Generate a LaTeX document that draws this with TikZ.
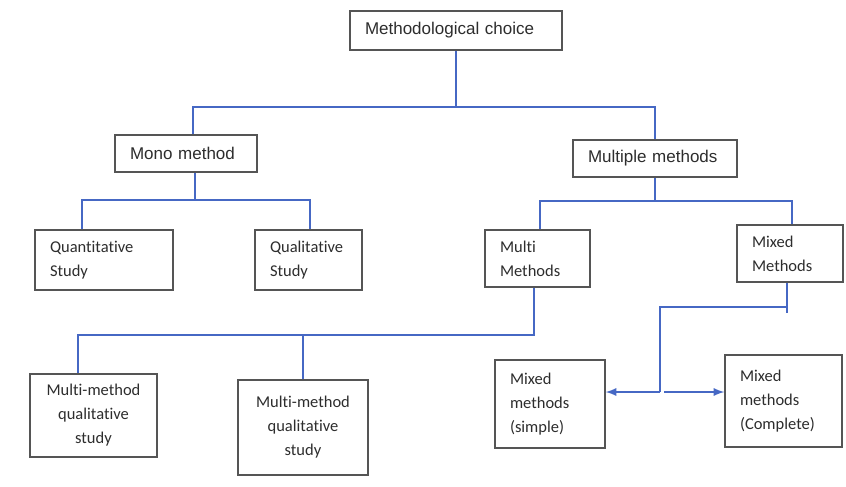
\documentclass[tikz,border=0pt]{standalone}
\usepackage{fontspec}
\setmainfont{Carlito}[Ligatures=NoCommon]
\newfontfamily\arialfont{Liberation Sans}
\usepackage{tikz}
\usetikzlibrary{shapes}
\usetikzlibrary{arrows}
\definecolor{linkblue}{RGB}{70,104,196}
\definecolor{boxgray}{RGB}{85,85,85}
\definecolor{textgray}{RGB}{45,45,45}
\begin{document}
\begin{tikzpicture}[x=1pt,y=-1pt]
				\tikzstyle{box}=[rectangle,draw=boxgray,line width=1.4pt,fill=white,text=textgray,inner xsep=15pt,inner ysep=2pt,align=left,font=\fontsize{16.5}{24}\selectfont]
				\tikzstyle{headbox}=[box,font=\arialfont\fontsize{17}{20}\selectfont]
				\tikzstyle{link}=[draw=linkblue,line width=2.6pt]
				\useasboundingbox (0,0) rectangle (846,487);
				% top level
				\node[headbox,text width=182pt,minimum height=39pt] (choice) at (456,30.5) {Methodological choice};
				\node[headbox,text width=112pt,minimum height=37pt] (mono) at (186,153.5) {Mono method};
				\node[headbox,text width=134pt,minimum height=37pt] (multiple) at (655,158.5) {Multiple methods};
				% second level
				\node[box,text width=108pt,minimum height=60pt] (quant) at (104,260) {Quantitative\\Study};
				\node[box,text width=77pt,minimum height=60pt] (qual) at (308.5,260) {Qualitative\\Study};
				\node[box,text width=75pt,minimum height=57pt] (multi) at (537.5,258.5) {Multi\\Methods};
				\node[box,text width=76pt,minimum height=57pt] (mixed) at (790,253.5) {Mixed\\Methods};
				% third level
				\node[box,align=center,text width=97pt,minimum height=83pt] (mmqa) at (93.5,415.5) {Multi-method\\qualitative\\study};
				\node[box,align=center,text width=100pt,minimum height=95pt] (mmqb) at (303,427.5) {Multi-method\\qualitative\\study};
				\node[box,text width=80pt,minimum height=88pt] (simple) at (550,404) {Mixed\\methods\\(simple)};
				\node[box,text width=87pt,minimum height=92pt] (complete) at (783.5,401) {Mixed\\methods\\(Complete)};
				% junctions
				\coordinate (top) at (456,107);
				\coordinate (monoj) at (195,200);
				\coordinate (multj) at (655,201);
				\coordinate (multij) at (534,335);
				\coordinate (mixj) at (660,307);
				\coordinate (mixk) at (660,392);
				\coordinate (mixl) at (664,392);
				% connectors
				\draw[link] (choice.south) -- (top);
				\draw[link] ([xshift=7pt]mono.north) |- (top) -| (multiple.north);
				\draw[link] ([xshift=9pt]mono.south) -- (monoj);
				\draw[link] ([xshift=-22pt]quant.north) |- (monoj) -| ([xshift=1.5pt]qual.north);
				\draw[link] (multiple.south) -- (multj);
				\draw[link] ([xshift=2.5pt]multi.north) |- (multj) -| ([xshift=2pt]mixed.north);
				\draw[link] ([xshift=-3.5pt]multi.south) -- (multij) -| ([xshift=-15.5pt]mmqa.north);
				\draw[link] (mmqb.north) -- (mmqb.north |- multij);
				\draw[link] ([xshift=-3pt]mixed.south) -- ++(0,30);
				\draw[link] ([xshift=-3pt]mixed.south) |- (mixj) -- (mixk);
				\draw[link,-latex] (mixk) -- ([yshift=12pt]simple.east);
				\draw[link,-latex] (mixl) -- ([yshift=9pt]complete.west);
\end{tikzpicture}
\end{document}
